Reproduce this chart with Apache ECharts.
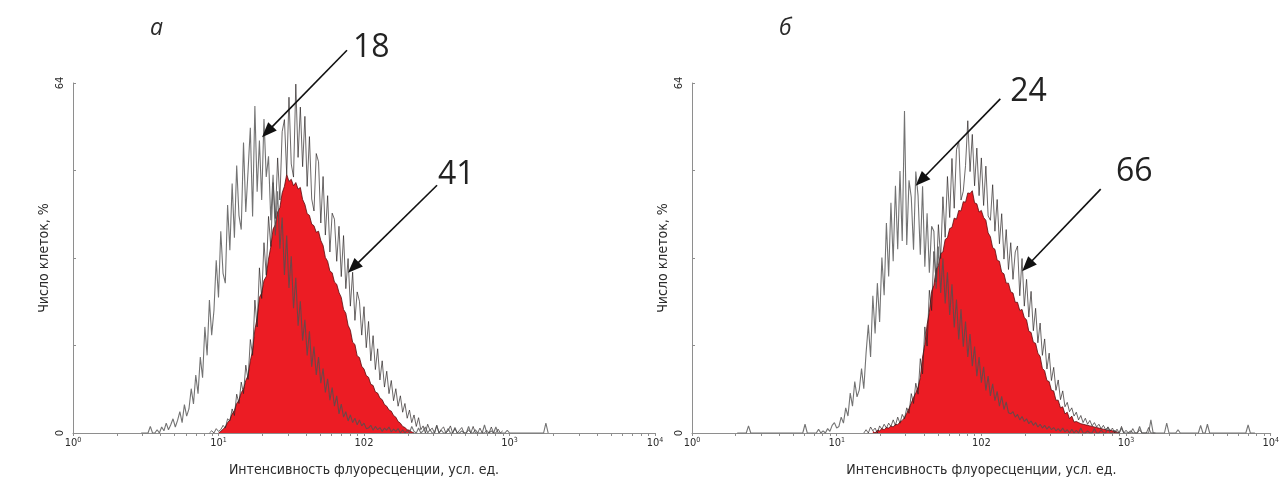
<!DOCTYPE html>
<html>
<head>
<meta charset="utf-8">
<script src="https://cdn.jsdelivr.net/npm/echarts@6/dist/echarts.min.js"></script>
<style>
  html, body { margin: 0; padding: 0; background: #fff; }
  #chart { width: 1282px; height: 486px; }
</style>
</head>
<body>
<div id="chart"></div>
<script>
// Histogram channels: 64 channels per decade, 4 decades (10^0 .. 10^4)
const BINS_PER_DECADE = 64;

// Decade tick labels: [base, exponent]
const decadeLabels = [['10', '0'], ['10', '1'], ['102', ''], ['10', '3'], ['10', '4']];
const yLabelValues = [0, 64];
const yMax = 64;
const yStep = 16;

// ---- Panel а ----
// control (unstained) histogram trace, first channel = ctrlAStart
const ctrlAStart = 30;
const ctrlA = [
  0, 0, 0, 0, 1.2, 0, 0, 0.6, 0, 1.1,
  0.4, 1.8, 0.6, 1.5, 2.6, 1.1, 2.3, 3.9, 1.9, 5.2,
  3.1, 4.4, 8.1, 5.3, 10.6, 7.2, 13.9, 10.1, 19.4, 14.2,
  24.3, 17.9, 22.4, 31.6, 24.8, 36.9, 29.2, 27.4, 41.7, 33.4,
  45.6, 35.7, 48.9, 39.8, 37.2, 53.1, 40.4, 47.9, 55.8, 39.6,
  59.8, 44.1, 53.5, 42.6, 57.4, 46.8, 50.6, 38.9, 47.2, 36.1,
  44.2, 33.7, 39.4, 28.9, 36.1, 26.5, 32.3, 22.8, 28.4, 19.6,
  24.1, 16.9, 20.7, 14.2, 18.6, 12.1, 15.8, 10.6, 13.9, 9.1,
  11.8, 7.4, 9.9, 6.0, 8.3, 4.9, 6.8, 3.5, 5.3, 2.9,
  3.9, 2.2, 3.3, 1.9, 2.7, 1.5, 2.4, 1.3, 1.8, 0.8,
  0.9, 1.4, 0.5, 1.2, 0.6, 1.0, 0.3, 0.9, 0.5, 1.1,
  0.2, 0.7, 0.3, 0.8, 0, 0.6, 0, 0.5, 0, 1.2,
  0.3, 0, 0.9, 0, 0.4, 1.1, 0, 0.6, 0, 0,
  1.4, 0, 0.5, 0, 0, 0.8, 0, 0, 1.0, 0,
  0, 0.4, 0, 0, 1.2, 0, 0, 0.6, 0, 0,
  0, 1.5, 0, 0, 0.4, 0, 1.1, 0, 0, 0,
  0, 0.5, 0, 0, 0, 0, 0, 0, 0, 0,
  0, 0, 0, 0, 0, 0, 0, 0, 1.8, 0
];
// stained histogram: filled body and its noisy outline
const stainAFillStart = 64;
const stainAFill = [
  0, 0.3, 0.7, 1.1, 1.9, 2.4, 3.5, 4.1, 5.4, 6.0,
  7.4, 8.0, 9.6, 10.5, 13.2, 15.1, 18.9, 21.0, 24.8, 25.6,
  27.9, 28.6, 31.8, 34.0, 37.3, 38.1, 40.4, 41.2, 43.9, 45.1,
  47.3, 46.0, 46.4, 45.2, 45.8, 44.6, 44.9, 42.7, 41.8, 40.1,
  39.8, 38.2, 37.9, 36.7, 36.9, 35.2, 34.3, 32.1, 31.4, 29.6,
  29.3, 27.6, 27.2, 25.7, 24.8, 22.6, 21.9, 19.7, 18.8, 16.6,
  16.2, 14.1, 13.8, 12.2, 11.7, 10.5, 10.2, 8.9, 8.7, 7.5,
  7.3, 6.4, 6.1, 5.2, 4.9, 4.2, 4.0, 3.2, 2.9, 2.1,
  1.8, 1.2, 1.0, 0.6, 0.5, 0.2, 0
];
const stainATraceStart = 60;
const stainATrace = [
  0, 0.4, 0, 0.8, 0.3, 0.6, 1.4, 0.9, 2.6, 2.2,
  4.4, 3.2, 7.1, 5.4, 9.3, 7.2, 12.4, 9.8, 17.1, 14.2,
  24.3, 19.4, 30.2, 24.6, 34.8, 28.9, 39.6, 34.1, 45.8, 39.2,
  50.3, 42.6, 55.1, 57.3, 47.3, 61.4, 49.2, 46.8, 63.8, 50.4,
  59.6, 48.7, 57.9, 45.1, 54.2, 42.8, 40.6, 51.1, 49.6, 38.4,
  46.9, 36.2, 43.4, 33.1, 40.2, 39.1, 31.4, 37.8, 28.6, 36.1,
  26.4, 31.9, 23.2, 29.4, 20.6, 25.8, 24.1, 17.9, 23.1, 15.6,
  20.4, 13.2, 17.8, 11.6, 15.4, 9.7, 13.2, 8.4, 11.3, 7.2,
  9.6, 5.9, 8.1, 4.9, 6.8, 3.8, 5.4, 2.7, 4.2, 1.9,
  3.3, 1.2, 2.8, 0.6, 1.3, 0, 1.6, 0.5, 0.9, 0,
  1.4, 0, 0.7, 1.1, 0, 0.4, 1.3, 0, 0.8, 0,
  0.5, 1.0, 0, 0, 0.6, 0, 1.2, 0, 0, 0.9,
  0, 0, 0.5, 0, 1.1, 0, 0, 0.7, 0, 0.4
];

// ---- Panel б ----
const ctrlBStart = 20;
const ctrlB = [
  0, 0, 0, 0, 0, 1.3, 0, 0, 0, 0,
  0, 0, 0, 0, 0, 0, 0, 0, 0, 0,
  0, 0, 0, 0, 0, 0, 0, 0, 0, 0,
  1.6, 0, 0, 0, 0, 0, 0.7, 0, 0.4, 0,
  0.8, 0.3, 1.4, 1.9, 0.9, 1.2, 2.9, 1.8, 4.6, 3.1,
  7.3, 4.9, 9.4, 6.6, 7.9, 11.8, 8.1, 14.6, 19.8, 13.9,
  25.1, 18.2, 27.4, 20.3, 32.1, 25.2, 38.4, 28.6, 42.1, 31.4,
  45.2, 33.6, 47.9, 35.1, 58.9, 34.4, 46.2, 43.1, 33.5, 47.8,
  43.4, 32.6, 45.1, 30.4, 40.2, 29.3, 37.8, 36.9, 26.4, 34.1,
  25.6, 31.9, 23.7, 29.4, 21.6, 27.2, 19.3, 24.4, 17.1, 22.6,
  15.8, 20.4, 13.9, 18.1, 12.2, 15.8, 10.4, 13.9, 9.2, 12.1,
  7.8, 10.4, 6.8, 9.0, 5.9, 7.6, 4.9, 6.7, 4.3, 5.7,
  3.7, 3.5, 3.9, 2.9, 3.4, 2.4, 3.0, 2.1, 2.6, 1.7,
  2.2, 1.4, 1.9, 1.1, 1.6, 0.9, 1.4, 0.7, 1.2, 0.6,
  1.0, 0.4, 0.8, 0.3, 0.9, 0.2, 0.6, 0, 0.7, 0,
  0.5, 0, 0.9, 0, 0, 0.4, 0, 0, 0.8, 0,
  0, 0.6, 0, 0, 1.1, 0, 0, 0.5, 0, 0,
  0.9, 0, 0, 0, 0.4, 0, 0, 0, 1.2, 0,
  0, 0, 0, 2.4, 0, 0, 0, 0, 0, 0,
  1.8, 0, 0, 0, 0, 0.6, 0, 0, 0, 0,
  0, 0, 0, 0, 0, 1.4, 0, 0, 1.6, 0,
  0, 0, 0, 0, 0, 0, 0, 0, 0, 0,
  0, 0, 0, 0, 0, 0, 1.5, 0, 0, 0
];
const stainBFillStart = 80;
const stainBFill = [
  0.3, 0, 0.5, 0.4, 0.8, 0.6, 1.0, 0.9, 1.3, 1.1,
  1.6, 1.5, 2.0, 2.3, 2.8, 3.6, 4.5, 5.5, 6.5, 7.3,
  8.4, 10.1, 13.9, 16.2, 19.8, 22.1, 25.9, 27.0, 29.9, 30.6,
  32.8, 33.1, 35.4, 35.7, 37.4, 37.6, 39.3, 39.1, 40.7, 40.6,
  42.3, 42.2, 43.9, 43.8, 44.3, 42.1, 41.9, 40.4, 40.7, 39.4,
  38.9, 36.6, 35.9, 33.9, 33.6, 31.6, 31.4, 29.4, 29.1, 27.4,
  27.4, 25.8, 25.6, 23.9, 23.9, 22.4, 22.6, 21.1, 20.7, 18.6,
  18.4, 16.6, 16.4, 14.6, 14.0, 11.8, 11.4, 9.6, 9.4, 7.8,
  7.7, 6.0, 6.0, 4.6, 4.8, 3.5, 3.8, 2.6, 3.1, 2.0,
  2.1, 1.9, 1.7, 1.6, 1.5, 1.4, 1.3, 1.2, 1.1, 1.0,
  0.9, 0.8, 0.7, 0.6, 0.5, 0.5, 0.4, 0.3, 0.2, 0
];
const stainBTraceStart = 76;
const stainBTrace = [
  0, 0.6, 0, 1.1, 0.4, 0.9, 0, 1.3, 0.7, 1.6,
  0.9, 1.8, 1.2, 2.4, 1.4, 2.9, 1.8, 3.4, 2.6, 4.6,
  3.6, 7.2, 5.4, 9.1, 7.1, 13.6, 10.8, 19.4, 15.9, 26.1,
  22.4, 33.2, 27.6, 38.1, 31.9, 43.2, 35.8, 46.9, 39.4, 50.2,
  41.1, 51.8, 53.4, 42.6, 44.2, 48.9, 57.1, 47.8, 54.6, 45.2,
  52.1, 43.4, 50.3, 41.6, 48.8, 39.7, 38.9, 45.4, 36.9, 42.7,
  34.6, 40.1, 31.8, 37.2, 29.9, 34.8, 28.1, 33.1, 34.2, 25.1,
  31.9, 23.2, 28.1, 21.2, 25.9, 18.7, 22.8, 16.5, 20.1, 14.2,
  17.2, 11.7, 14.6, 9.6, 12.0, 7.8, 9.7, 6.1, 7.7, 4.8,
  5.6, 3.9, 4.6, 3.1, 3.8, 2.4, 3.2, 1.9, 2.7, 1.6,
  2.3, 1.3, 1.9, 1.1, 1.6, 0.8, 1.4, 0.6, 1.1, 0.4,
  0.9, 0, 0.7, 0, 1.2, 0, 0.5, 0, 0, 0.8,
  0, 0, 0.6, 0, 0, 0, 1.0, 0, 0, 0
];

// Arrow annotations in data coordinates: [log10 intensity, % cells]
const annotations = [
  { grid: 0, text: '18', label: [1.924, 70.4], from: [1.883, 70.0], to: [1.299, 54.1] },
  { grid: 0, text: '41', label: [2.509, 47.2], from: [2.502, 45.3], to: [1.890, 29.3] },
  { grid: 1, text: '24', label: [2.199, 62.4], from: [2.131, 61.1], to: [1.546, 45.2] },
  { grid: 1, text: '66', label: [2.930, 47.7], from: [2.825, 44.6], to: [2.282, 29.6] }
];

const panelLetters = ['а', 'б'];
const xName = 'Интенсивность флуоресценции, усл. ед.';
const yName = 'Число клеток, %';

// ---------------------------------------------------------------
const NARROW = '"Liberation Sans Narrow", "DejaVu Sans Condensed", sans-serif';
const AXIS_GREY = '#8e8e8e';
const TEXT = '#2b2b2b';

const toPoints = (start, values) =>
  values.map((v, i) => [(start + i) / BINS_PER_DECADE, v]);

// log-scale tick positions (1..9 x 10^d) on the log10 axis
const logTicks = [];
for (let d = 0; d < 4; d++) {
  for (let k = 1; k <= 9; k++) logTicks.push(Math.log10(k * Math.pow(10, d)));
}
logTicks.push(4);

const grids = [
  { left: 73, right: 627, top: 83, bottom: 53 },
  { left: 692, right: 8, top: 83, bottom: 53 }
];

function xAxisFor(g) {
  return {
    type: 'value', gridIndex: g, min: 0, max: 4, interval: 1,
    axisLine: { lineStyle: { color: AXIS_GREY, width: 1 } },
    axisTick: { show: true, customValues: logTicks, length: 3, lineStyle: { color: AXIS_GREY } },
    axisLabel: {
      customValues: [0, 1, 2, 3, 4], margin: 4,
      formatter: v => {
        const l = decadeLabels[Math.round(v)];
        return l[1] ? '{b|' + l[0] + '}{s|' + l[1] + '}' : '{b|' + l[0] + '}';
      },
      rich: {
        b: { fontSize: 11, fontFamily: NARROW, color: TEXT, lineHeight: 12 },
        s: { fontSize: 7, fontFamily: NARROW, color: TEXT, lineHeight: 7, verticalAlign: 'top' }
      }
    },
    splitLine: { show: false },
    name: xName, nameLocation: 'middle', nameGap: 30,
    nameTextStyle: { fontSize: 14, fontFamily: NARROW, color: TEXT }
  };
}

function yAxisFor(g) {
  return {
    type: 'value', gridIndex: g, min: 0, max: yMax, interval: yStep,
    axisLine: { show: true, lineStyle: { color: AXIS_GREY, width: 1 } },
    axisTick: { show: true, inside: true, length: 3, lineStyle: { color: AXIS_GREY } },
    axisLabel: {
      customValues: yLabelValues, rotate: 90, margin: 7,
      fontSize: 11, fontFamily: NARROW, color: TEXT
    },
    splitLine: { show: false },
    name: yName, nameLocation: 'middle', nameGap: 22,
    nameTextStyle: { fontSize: 14, fontFamily: NARROW, color: TEXT }
  };
}

function histSeries(g, fillStart, fill, traceStart, trace, ctrlStart, ctrl) {
  const common = { type: 'line', xAxisIndex: g, yAxisIndex: g, symbol: 'none',
                   silent: true, animation: false };
  return [
    Object.assign({}, common, {
      data: toPoints(fillStart, fill), z: 2,
      lineStyle: { width: 0.8, color: '#5a0c0f' },
      areaStyle: { color: '#ec1c24', opacity: 1 }
    }),
    Object.assign({}, common, {
      data: toPoints(traceStart, trace), z: 3,
      lineStyle: { width: 0.9, color: 'rgba(45,38,38,0.78)' }
    }),
    Object.assign({}, common, {
      data: toPoints(ctrlStart, ctrl), z: 4,
      lineStyle: { width: 1.1, color: 'rgba(80,80,80,0.8)' }
    })
  ];
}

const chart = echarts.init(document.getElementById('chart'), null, { renderer: 'canvas' });
chart.setOption({
  backgroundColor: '#fff',
  animation: false,
  title: [
    { text: panelLetters[0], left: 145, top: 12,
      textStyle: { fontSize: 23, fontStyle: 'italic', fontWeight: 'normal', fontFamily: '"Open Sans", sans-serif', color: TEXT } },
    { text: panelLetters[1], left: 774, top: 12,
      textStyle: { fontSize: 23, fontStyle: 'italic', fontWeight: 'normal', fontFamily: '"Open Sans", sans-serif', color: TEXT } }
  ],
  grid: grids,
  xAxis: [xAxisFor(0), xAxisFor(1)],
  yAxis: [yAxisFor(0), yAxisFor(1)],
  series: [].concat(
    histSeries(0, stainAFillStart, stainAFill, stainATraceStart, stainATrace, ctrlAStart, ctrlA),
    histSeries(1, stainBFillStart, stainBFill, stainBTraceStart, stainBTrace, ctrlBStart, ctrlB)
  )
});

// Arrow annotations: converted from data coordinates to pixels
const graphics = [];
annotations.forEach(a => {
  const p0 = chart.convertToPixel({ gridIndex: a.grid }, a.from);
  const p1 = chart.convertToPixel({ gridIndex: a.grid }, a.to);
  const pl = chart.convertToPixel({ gridIndex: a.grid }, a.label);
  const dx = p1[0] - p0[0], dy = p1[1] - p0[1];
  const len = Math.sqrt(dx * dx + dy * dy);
  const ux = dx / len, uy = dy / len;
  const headLen = 15, headHalf = 6;
  const bx = p1[0] - ux * headLen, by = p1[1] - uy * headLen;
  graphics.push({
    type: 'line', silent: true, z: 10,
    shape: { x1: p0[0], y1: p0[1], x2: bx + ux * 2, y2: by + uy * 2 },
    style: { stroke: '#111', lineWidth: 1.6 }
  });
  graphics.push({
    type: 'polygon', silent: true, z: 10,
    shape: { points: [
      [p1[0], p1[1]],
      [bx - uy * headHalf, by + ux * headHalf],
      [bx + uy * headHalf, by - ux * headHalf]
    ] },
    style: { fill: '#111' }
  });
  graphics.push({
    type: 'text', silent: true, z: 10, x: pl[0], y: pl[1],
    style: { text: a.text, fontSize: 32, fontFamily: '"Open Sans", sans-serif',
             fill: '#222', align: 'left', verticalAlign: 'middle' }
  });
});
chart.setOption({ graphic: graphics });
</script>
</body>
</html>
